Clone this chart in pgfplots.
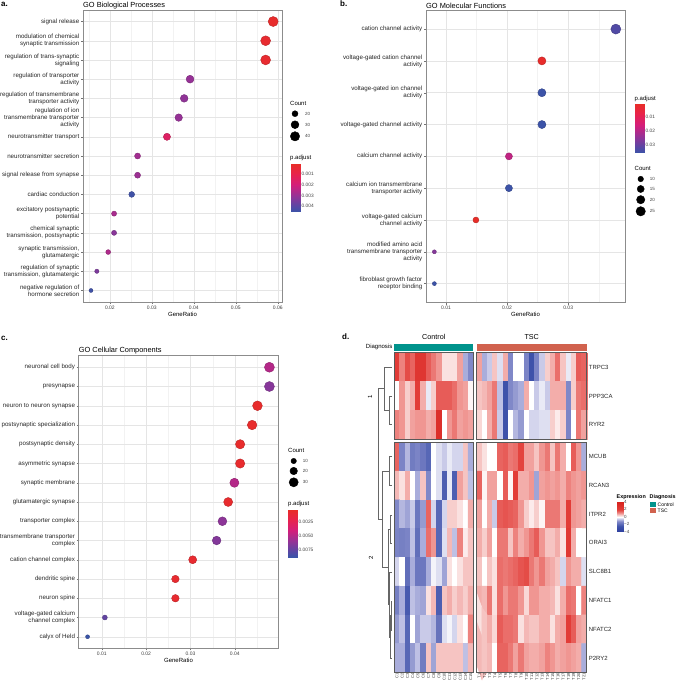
\documentclass[border=0pt]{standalone}
\usepackage{fontspec}
\setmainfont{Liberation Sans}
\usepackage{pgfplots}
\pgfplotsset{compat=1.18}
\newcommand{\fs}[2]{\fontsize{#1}{#2}\selectfont}
\definecolor{ctrlcol}{RGB}{0,147,140}
\definecolor{tsccol}{RGB}{209,98,78}
\pgfplotsset{
  colormap={padjr}{rgb255(0)=(58,84,168) rgb255(11)=(85,72,165) rgb255(34)=(150,50,150) rgb255(57)=(212,30,122) rgb255(80)=(232,35,75) rgb255(100)=(232,45,40)},
  colormap={expr}{rgb255(0)=(45,62,158) rgb255(15)=(62,82,170) rgb255(28)=(128,136,200) rgb255(34)=(190,192,228) rgb255(40)=(255,255,255) rgb255(46)=(246,196,194) rgb255(50)=(240,150,146) rgb255(55)=(232,100,96) rgb255(60)=(226,60,55) rgb255(80)=(215,35,30)},
  dotaxis/.style={
    anchor=north west, scale only axis, y dir=reverse, clip=false,
    axis line style={draw=black!45, line width=0.5pt},
    xmajorgrids, ymajorgrids, xminorgrids,
    major grid style={draw=black!10, line width=0.45pt},
    minor grid style={draw=black!5, line width=0.3pt},
    tick align=outside, major tick length=2pt, minor tick length=0pt,
    tick style={draw=black!55, line width=0.4pt},
    xtick pos=bottom, ytick pos=left,
    scaled x ticks=false,
    xticklabel style={font=\fs{5}{6}, text=black!75, inner sep=1.5pt},
    yticklabel style={font=\fs{6.2}{7}, align=right, text=black!85, inner sep=1.5pt},
    xlabel={GeneRatio},
    xlabel style={font=\fs{6}{7}, inner sep=0pt, yshift=-1pt},
    title style={font=\fs{7.4}{8}, at={(0,1)}, anchor=south west, inner sep=0pt, yshift=-5pt},
    colormap name=padjr,
    /pgf/number format/assume math mode=true,
  },
  dotplot/.style={scatter, only marks, mark=*,
    visualization depends on={\thisrow{r} \as \msz},
    scatter/@pre marker code/.append style={/tikz/mark size=\msz}},
  cbar/.style={anchor=north west, scale only axis, xmin=0, xmax=1, enlargelimits=false,
    axis line style={draw=none}, xtick=\empty, yticklabel pos=right, major tick length=0pt,
    tick style={draw=none}, scaled y ticks=false,
    yticklabel style={font=\fs{4.8}{5}, text=black!75, inner sep=1.5pt},
    /pgf/number format/assume math mode=true},
  cntleg/.style={anchor=north west, scale only axis, clip=false, y dir=reverse, xmin=0, ymin=0,
    axis line style={draw=none}, xtick=\empty, yticklabel pos=right, major tick length=0pt,
    tick style={draw=none}, yticklabel style={font=\fs{4.5}{5}, text=black!75, inner sep=1pt},
    /pgf/number format/assume math mode=true},
  hm/.style={anchor=north west, scale only axis, enlargelimits=false, y dir=reverse, axis on top,
    axis line style={draw=black!65, line width=0.6pt}, xtick=\empty, ytick=\empty,
    colormap name=expr, point meta min=-4, point meta max=4, clip=false,
    major tick length=0pt, tick style={draw=none},
    xticklabel style={rotate=90, anchor=east, font=\fs{4}{4}, inner sep=1pt, text=black!80},
    yticklabel style={font=\fs{6}{7}, inner sep=2pt, text=black!85},
    /pgf/number format/assume math mode=true},
  dendro/.style={draw=black!60, line width=0.5pt, mark=none},
}
\begin{document}
\begin{tikzpicture}
\path[use as bounding box] (0,0) rectangle (676pt,-685pt);

% ---------------- panel a ----------------
\node[anchor=west, font=\fs{8}{9}\bfseries, inner sep=0pt] at (1pt,-4pt) {a.};
\begin{axis}[dotaxis, at={(83pt,-10pt)}, width=199pt, height=292pt,
  xmin=0.0136, xmax=0.061, ymin=0.4, ymax=15.6,
  xtick={0.02,0.03,0.04,0.05,0.06}, xticklabels={0.02,0.03,0.04,0.05,0.06},
  minor xtick={0.015,0.025,0.035,0.045,0.055},
  ytick={1,...,15},
  yticklabels={{signal release},{modulation of chemical\\synaptic transmission},{regulation of trans-synaptic\\signaling},{regulation of transporter\\activity},{regulation of transmembrane\\transporter activity},{regulation of ion\\transmembrane transporter\\activity},{neurotransmitter transport},{neurotransmitter secretion},{signal release from synapse},{cardiac conduction},{excitatory postsynaptic\\potential},{chemical synaptic\\transmission, postsynaptic},{synaptic transmission,\\glutamatergic},{regulation of synaptic\\transmission, glutamatergic},{negative regulation of\\hormone secretion}},
  title={GO Biological Processes},
  point meta min=-4.5, point meta max=-0.1]
\addplot[dotplot, point meta={-1000*\thisrow{p}}] table[x=x, y=y] {
y x n p r
1 0.0589 45 0.0002 5.00
2 0.0571 44 0.0003 4.93
3 0.0571 44 0.0003 4.93
4 0.0391 30 0.0030 3.93
5 0.0377 29 0.0031 3.85
6 0.0364 28 0.0030 3.76
7 0.0336 26 0.0015 3.59
8 0.0266 20 0.0028 3.01
9 0.0266 20 0.0029 3.01
10 0.0252 19 0.0044 2.91
11 0.0210 16 0.0027 2.56
12 0.0210 16 0.0032 2.56
13 0.0196 15 0.0026 2.43
14 0.0169 13 0.0034 2.15
15 0.0155 12 0.0044 2.00
};
\end{axis}
\node[anchor=west, font=\fs{6}{7}, inner sep=0pt] at (290pt,-103.7pt) {Count};
\begin{axis}[cntleg, at={(290pt,-105pt)}, width=14pt, height=40pt, xmax=14, ymax=40,
  ytick={8.7,19.7,31.3}, yticklabels={20,30,40}]
\addplot[only marks, mark=*, black, mark size=3.0] coordinates {(5,8.7)};
\addplot[only marks, mark=*, black, mark size=3.94] coordinates {(5,19.7)};
\addplot[only marks, mark=*, black, mark size=4.67] coordinates {(5,31.3)};
\end{axis}
\node[anchor=west, font=\fs{6}{7}, inner sep=0pt] at (290pt,-158.3pt) {p.adjust};
\begin{axis}[cbar, at={(291pt,-164pt)}, width=9pt, height=47.7pt, ymin=-4.5, ymax=-0.1,
  colormap name=padjr, point meta min=-4.5, point meta max=-0.1,
  ytick={-4,-3,-2,-1}, yticklabels={0.004,0.003,0.002,0.001}]
\addplot[patch, patch type=rectangle, shader=interp, point meta=y] coordinates {(0,-4.5) (1,-4.5) (1,-0.1) (0,-0.1)};
\end{axis}

% ---------------- panel b ----------------
\node[anchor=west, font=\fs{8}{9}\bfseries, inner sep=0pt] at (340pt,-4pt) {b.};
\begin{axis}[dotaxis, at={(426pt,-10pt)}, width=199pt, height=292.7pt,
  xmin=0.00673, xmax=0.0393, ymin=0.4, ymax=9.6,
  xtick={0.01,0.02,0.03}, xticklabels={0.01,0.02,0.03},
  minor xtick={0.015,0.025,0.035},
  ytick={1,...,9},
  yticklabels={{cation channel activity},{voltage-gated cation channel\\activity},{voltage-gated ion channel\\activity},{voltage-gated channel activity},{calcium channel activity},{calcium ion transmembrane\\transporter activity},{voltage-gated calcium\\channel activity},{modified amino acid\\transmembrane transporter\\activity},{fibroblast growth factor\\receptor binding}},
  title={GO Molecular Functions},
  point meta min=-3.53, point meta max=-0.07]
\addplot[dotplot, point meta={-100*\thisrow{p}}] table[x=x, y=y] {
y x n p r
1 0.0378 28 0.032 5.00
2 0.0257 19 0.0012 4.05
3 0.0257 19 0.035 4.05
4 0.0257 19 0.035 4.05
5 0.0203 15 0.018 3.55
6 0.0203 15 0.035 3.55
7 0.0149 11 0.0008 2.96
8 0.0081 6 0.0256 2.00
9 0.0081 6 0.035 2.00
};
\end{axis}
\node[anchor=west, font=\fs{6}{7}, inner sep=0pt] at (634.5pt,-99pt) {p.adjust};
\begin{axis}[cbar, at={(635pt,-104.3pt)}, width=9pt, height=48.4pt, ymin=-3.53, ymax=-0.07,
  colormap name=padjr, point meta min=-3.53, point meta max=-0.07,
  ytick={-3,-2,-1}, yticklabels={0.03,0.02,0.01}]
\addplot[patch, patch type=rectangle, shader=interp, point meta=y] coordinates {(0,-3.53) (1,-3.53) (1,-0.07) (0,-0.07)};
\end{axis}
\node[anchor=west, font=\fs{6}{7}, inner sep=0pt] at (634.5pt,-168.3pt) {Count};
\begin{axis}[cntleg, at={(635.7pt,-172pt)}, width=13pt, height=45pt, xmax=13, ymax=45,
  ytick={7,17,27.7,39.3}, yticklabels={10,15,20,25}]
\addplot[only marks, mark=*, black, mark size=2.8] coordinates {(5,7)};
\addplot[only marks, mark=*, black, mark size=3.55] coordinates {(5,17)};
\addplot[only marks, mark=*, black, mark size=4.17] coordinates {(5,27.7)};
\addplot[only marks, mark=*, black, mark size=4.7] coordinates {(5,39.3)};
\end{axis}

% ---------------- panel c ----------------
\node[anchor=west, font=\fs{8}{9}\bfseries, inner sep=0pt] at (1pt,-338pt) {c.};
\begin{axis}[dotaxis, at={(78.7pt,-355.7pt)}, width=199.6pt, height=292.6pt,
  xmin=0.0048, xmax=0.0498, ymin=0.4, ymax=15.6,
  xtick={0.01,0.02,0.03,0.04}, xticklabels={0.01,0.02,0.03,0.04},
  minor xtick={0.015,0.025,0.035,0.045},
  ytick={1,...,15},
  yticklabels={{neuronal cell body},{presynapse},{neuron to neuron synapse},{postsynaptic specialization},{postsynaptic density},{asymmetric synapse},{synaptic membrane},{glutamatergic synapse},{transporter complex},{transmembrane transporter\\complex},{cation channel complex},{dendritic spine},{neuron spine},{voltage-gated calcium\\channel complex},{calyx of Held}},
  title={GO Cellular Components},
  point meta min=-8.8, point meta max=-0.4]
\addplot[dotplot, point meta={-1000*\thisrow{p}}] table[x=x, y=y] {
y x n p r
1 0.0478 36 0.0050 5.00
2 0.0478 36 0.0064 5.00
3 0.0451 34 0.0006 4.86
4 0.0439 33 0.0006 4.79
5 0.0412 31 0.0006 4.65
6 0.0412 31 0.0007 4.65
7 0.0399 30 0.0050 4.57
8 0.0385 29 0.0007 4.50
9 0.0372 28 0.0062 4.42
10 0.0359 27 0.0065 4.35
11 0.0305 23 0.0008 4.02
12 0.0266 20 0.0008 3.76
13 0.0266 20 0.0008 3.76
14 0.0107 8 0.0075 2.46
15 0.0068 5 0.0088 2.00
};
\end{axis}
\node[anchor=west, font=\fs{6}{7}, inner sep=0pt] at (288pt,-450.7pt) {Count};
\begin{axis}[cntleg, at={(288.7pt,-455pt)}, width=13pt, height=33pt, xmax=13, ymax=33,
  ytick={6,16,27.3}, yticklabels={10,20,30}]
\addplot[only marks, mark=*, black, mark size=2.72] coordinates {(5,6)};
\addplot[only marks, mark=*, black, mark size=3.76] coordinates {(5,16)};
\addplot[only marks, mark=*, black, mark size=4.57] coordinates {(5,27.3)};
\end{axis}
\node[anchor=west, font=\fs{6}{7}, inner sep=0pt] at (288pt,-504pt) {p.adjust};
\begin{axis}[cbar, at={(288pt,-510pt)}, width=9pt, height=47.3pt, ymin=-8.8, ymax=-0.4,
  colormap name=padjr, point meta min=-8.8, point meta max=-0.4,
  ytick={-7.5,-5,-2.5}, yticklabels={0.0075,0.0050,0.0025}]
\addplot[patch, patch type=rectangle, shader=interp, point meta=y] coordinates {(0,-8.8) (1,-8.8) (1,-0.4) (0,-0.4)};
\end{axis}

% ---------------- panel d ----------------
\node[anchor=west, font=\fs{8}{9}\bfseries, inner sep=0pt] at (342pt,-337pt) {d.};
\node[font=\fs{7.2}{8}, inner sep=0pt] at (433.8pt,-337.3pt) {Control};
\node[font=\fs{7.2}{8}, inner sep=0pt] at (531.7pt,-337.3pt) {TSC};
\node[anchor=east, font=\fs{6}{7}, inner sep=0pt] at (392.5pt,-347.3pt) {Diagnosis};

% dendrogram
\begin{axis}[at={(370pt,-352.7pt)}, anchor=north west, scale only axis, width=24pt, height=319.6pt,
  xmin=370, xmax=394, ymin=352.7, ymax=672.3, y dir=reverse, hide axis, clip=false]
\addplot[dendro] coordinates {(392,396) (389,396) (389,424.3) (392,424.3)};
\addplot[dendro] coordinates {(392,367.3) (384,367.3) (384,410.2) (389,410.2)};
\addplot[dendro] coordinates {(392,456.7) (389,456.7) (389,485) (392,485)};
\addplot[dendro] coordinates {(392,515) (390,515) (390,543.3) (392,543.3)};
\addplot[dendro] coordinates {(392,601) (391,601) (391,630) (392,630)};
\addplot[dendro] coordinates {(391,615.5) (390,615.5) (390,658.7) (392,658.7)};
\addplot[dendro] coordinates {(392,572) (389,572) (389,637.1) (390,637.1)};
\addplot[dendro] coordinates {(390,529.2) (388,529.2) (388,604.5) (389,604.5)};
\addplot[dendro] coordinates {(389,470.9) (382.5,470.9) (382.5,566.9) (388,566.9)};
\addplot[dendro] coordinates {(384,388.7) (378,388.7) (378,518.9) (382.5,518.9)};
\end{axis}
\node[rotate=90, font=\fs{6}{7}, inner sep=0pt] at (370pt,-397pt) {1};
\node[rotate=90, font=\fs{6}{7}, inner sep=0pt] at (371pt,-558pt) {2};

% Control, cluster 1
\begin{axis}[hm, at={(394.3pt,-352.7pt)}, width=79pt, height=86.6pt,
  xmin=-0.5, xmax=14.5, ymin=-0.5, ymax=2.5]
\addplot[matrix plot*, mesh/cols=15, point meta=explicit]
  table[x expr={mod(\coordindex,15)}, y expr={floor(\coordindex/15)}, meta=v, row sep=\\] {v\\
2.0\\ 1.2\\ 1.8\\ 1.5\\ 2.5\\ 2.5\\ 1.6\\ 1.3\\ 1.0\\ 0.3\\ 0.3\\ 0.3\\ 0.9\\ -0.8\\ -1.2\\
0\\ 1.0\\ 0.5\\ 0.8\\ 2.0\\ 0.8\\ -0.2\\ 0.5\\ 1.6\\ 1.6\\ 1.6\\ 1.4\\ 1.0\\ 0.9\\ 0.1\\
1.2\\ 1.0\\ 0.5\\ 0.9\\ 1.0\\ 1.0\\ 0.8\\ 0.9\\ 3.0\\ 0\\ 1.0\\ 1.3\\ 0.9\\ 1.0\\ 0.9\\
};
\addplot[fill=ctrlcol, draw=none] coordinates {(-0.5,-0.80) (14.5,-0.80) (14.5,-0.57) (-0.5,-0.57)} --cycle;
\end{axis}

% TSC, cluster 1
\begin{axis}[hm, at={(476.7pt,-352.7pt)}, width=110pt, height=86.6pt,
  xmin=-0.5, xmax=20.5, ymin=-0.5, ymax=2.5,
  ytick={0,1,2}, yticklabels={TRPC3,PPP3CA,RYR2}, yticklabel pos=right]
\addplot[matrix plot*, mesh/cols=21, point meta=explicit]
  table[x expr={mod(\coordindex,21)}, y expr={floor(\coordindex/21)}, meta=v, row sep=\\] {v\\
0.9\\ -0.8\\ -0.5\\ 0.6\\ -0.3\\ 0.8\\ -1.2\\ 0\\ 0\\ -1.3\\ -2.5\\ -1.3\\ -0.5\\ 0.5\\ 0.8\\ 1.4\\ 0.6\\ -0.2\\ 0.5\\ 1.6\\ 1.5\\
0.6\\ 0.7\\ 0.9\\ 1.3\\ -0.6\\ -2.5\\ -1.2\\ -1.0\\ -0.8\\ 0.8\\ 0\\ -0.5\\ -0.2\\ -0.5\\ 0.8\\ 0.8\\ 0.8\\ -1.2\\ 0.5\\ 1.3\\ 1.4\\
0.4\\ 0\\ 0.8\\ 1.3\\ -0.5\\ -2.5\\ 0\\ -0.7\\ -1.0\\ 0\\ -0.4\\ -0.4\\ -0.3\\ -0.3\\ 0.5\\ 0.2\\ 0.5\\ -1.3\\ 0\\ 1.3\\ 0.9\\
};
\addplot[fill=tsccol, draw=none] coordinates {(-0.5,-0.80) (20.5,-0.80) (20.5,-0.57) (-0.5,-0.57)} --cycle;
\end{axis}

% Control, cluster 2
\begin{axis}[hm, at={(394.3pt,-442.3pt)}, width=79pt, height=230pt,
  xmin=-0.5, xmax=14.5, ymin=-0.5, ymax=7.5,
  xtick={0,...,14}, xticklabels={C1,C2,C3,C4,C5,C6,C7,C8,C9,C10,C11,C12,C13,C14,C15}, xtick pos=bottom]
\addplot[matrix plot*, mesh/cols=15, point meta=explicit]
  table[x expr={mod(\coordindex,15)}, y expr={floor(\coordindex/15)}, meta=v, row sep=\\] {v\\
1.5\\ -1.3\\ -0.7\\ -1.5\\ -1.3\\ -1.6\\ -2.0\\ 0\\ -0.3\\ -0.5\\ -0.2\\ -0.4\\ -0.4\\ 0.6\\ -0.8\\
0.7\\ 0.3\\ 0.8\\ 0\\ -0.8\\ 0.6\\ -1.2\\ 0\\ -0.3\\ -2.2\\ -0.2\\ -2.2\\ 0.9\\ 0.6\\ -0.6\\
-1.2\\ -0.7\\ -0.9\\ -0.5\\ -1.6\\ -1.0\\ 1.5\\ -0.4\\ -2.0\\ -0.4\\ 0.5\\ 0.5\\ 0.3\\ 0\\ 0.8\\
-1.3\\ -1.4\\ -1.3\\ -0.6\\ -1.8\\ -0.8\\ 1.4\\ 1.0\\ -2.0\\ -0.3\\ 0.7\\ -0.6\\ 1.2\\ 0.2\\ 0.6\\
-0.4\\ 0\\ -1.8\\ -0.8\\ -1.6\\ -1.6\\ -0.8\\ -0.1\\ -0.3\\ -0.9\\ 0.3\\ 0\\ 0.3\\ 0.6\\ 0.6\\
-1.4\\ -0.8\\ -2.3\\ -0.6\\ -0.8\\ -0.9\\ 0.3\\ 0.7\\ -2.2\\ 0.6\\ 0.8\\ 0.5\\ 0.7\\ 0.5\\ 0.8\\
-1.0\\ -0.6\\ -2.0\\ 0\\ -0.9\\ -0.5\\ -0.5\\ -0.7\\ -1.7\\ -0.3\\ -0.1\\ -0.4\\ 0.3\\ 0\\ 1.2\\
-0.8\\ -0.8\\ -2.0\\ -1.0\\ -0.6\\ -1.5\\ 0.6\\ -0.9\\ 0.6\\ 0.6\\ 0.6\\ 0.6\\ 0.6\\ -0.6\\ 0.7\\
};
\end{axis}

% TSC, cluster 2
\begin{axis}[hm, at={(476.7pt,-442.3pt)}, width=110pt, height=230pt,
  xmin=-0.5, xmax=20.5, ymin=-0.5, ymax=7.5,
  xtick={0,...,20}, xticklabels={T1,T2,T3,T4,T5,T6,T7,T8,T9,T10,T11,T12,T13,T14,T15,T16,T17,T18,T19,T20,T21}, xtick pos=bottom,
  ytick={0,...,7}, yticklabels={MCUB,RCAN3,ITPR2,ORAI3,SLC8B1,NFATC1,NFATC2,P2RY2}, yticklabel pos=right]
\addplot[matrix plot*, mesh/cols=21, point meta=explicit]
  table[x expr={mod(\coordindex,21)}, y expr={floor(\coordindex/21)}, meta=v, row sep=\\] {v\\
0.6\\ 0.3\\ 0\\ 0\\ 1.5\\ 1.6\\ 1.3\\ 1.4\\ 1.9\\ 0.9\\ 0.9\\ 0.6\\ 1.0\\ 1.3\\ 0.6\\ 1.3\\ 0.8\\ 0\\ 1.6\\ 1.0\\ -0.8\\
1.5\\ 0.1\\ 0.9\\ 0.9\\ 0\\ 1.6\\ 0.1\\ 2.0\\ 0.8\\ 0.8\\ 1.0\\ -0.9\\ 0.9\\ 1.0\\ 0.9\\ 1.0\\ 0.8\\ 1.2\\ 1.0\\ 0.9\\ 1.0\\
0.9\\ 0\\ 0.8\\ -0.5\\ 1.6\\ 1.7\\ 1.6\\ 1.5\\ 1.0\\ 0.5\\ 0.2\\ 0.5\\ 0.1\\ 1.3\\ 1.3\\ 1.3\\ 0.8\\ 2.0\\ 1.0\\ 0.9\\ 0.8\\
0.8\\ 0.5\\ 0.9\\ 0\\ 1.3\\ 1.3\\ 0.6\\ 1.2\\ 0.8\\ 1.0\\ 1.3\\ 1.6\\ 1.0\\ 0.6\\ 0.6\\ 0.8\\ 0.3\\ 2.3\\ 0.8\\ 0\\ 0\\
0.6\\ 0\\ 0.6\\ 0.3\\ 1.4\\ 1.3\\ 1.4\\ 1.5\\ 1.7\\ 1.8\\ 1.3\\ 1.0\\ 1.3\\ 0.9\\ 0.8\\ 0.6\\ -0.4\\ 1.0\\ 0.8\\ 0.8\\ -0.3\\
0.8\\ 0.7\\ 1.3\\ 0.3\\ 1.4\\ 1.0\\ 1.3\\ 1.3\\ 1.0\\ 0.4\\ 1.0\\ 1.0\\ 0.8\\ 0.8\\ 0.7\\ 0.3\\ 0.8\\ 1.4\\ 1.3\\ 0\\ 1.2\\
0.3\\ 0.6\\ 0.8\\ 0.4\\ 1.6\\ 1.4\\ 1.4\\ 1.3\\ 0.3\\ 0.7\\ 0.6\\ 0.6\\ 0.8\\ 0.8\\ 0.3\\ 0.8\\ 0.9\\ 2.0\\ 1.6\\ 0.9\\ 0.8\\
0.7\\ 0.6\\ 0.7\\ 0\\ 1.5\\ 1.5\\ 1.3\\ 0.9\\ 1.3\\ 0.9\\ 0.8\\ 0.8\\ 0.9\\ 1.2\\ 1.0\\ 0.8\\ 0.9\\ 1.0\\ 0.9\\ 0.8\\ -0.8\\
};
\end{axis}

% heatmap legends
\node[anchor=west, font=\fs{5.4}{6}\bfseries, inner sep=0pt] at (616.5pt,-496.7pt) {Expression};
\begin{axis}[cbar, at={(617pt,-501.5pt)}, width=6pt, height=30pt, ymin=-4, ymax=4,
  colormap name=expr, point meta min=-4, point meta max=4,
  ytick={-4,-2,0,2,4}, yticklabels={−4,−2,0,2,4}, yticklabel style={font=\fs{4.5}{5}, inner sep=1pt}]
\addplot[patch, patch type=rectangle, shader=interp, point meta=y] coordinates {(0,-4) (1,-4) (1,4) (0,4)};
\end{axis}
\node[anchor=west, font=\fs{5.4}{6}\bfseries, inner sep=0pt] at (649.5pt,-496.7pt) {Diagnosis};
\fill[ctrlcol] (650pt,-501.5pt) rectangle (656pt,-507pt);
\fill[tsccol] (650pt,-507.5pt) rectangle (656pt,-513pt);
\node[anchor=west, font=\fs{5}{6}, inner sep=0pt] at (657.5pt,-504.3pt) {Control};
\node[anchor=west, font=\fs{5}{6}, inner sep=0pt] at (657.5pt,-510.3pt) {TSC};
\end{tikzpicture}
\end{document}
